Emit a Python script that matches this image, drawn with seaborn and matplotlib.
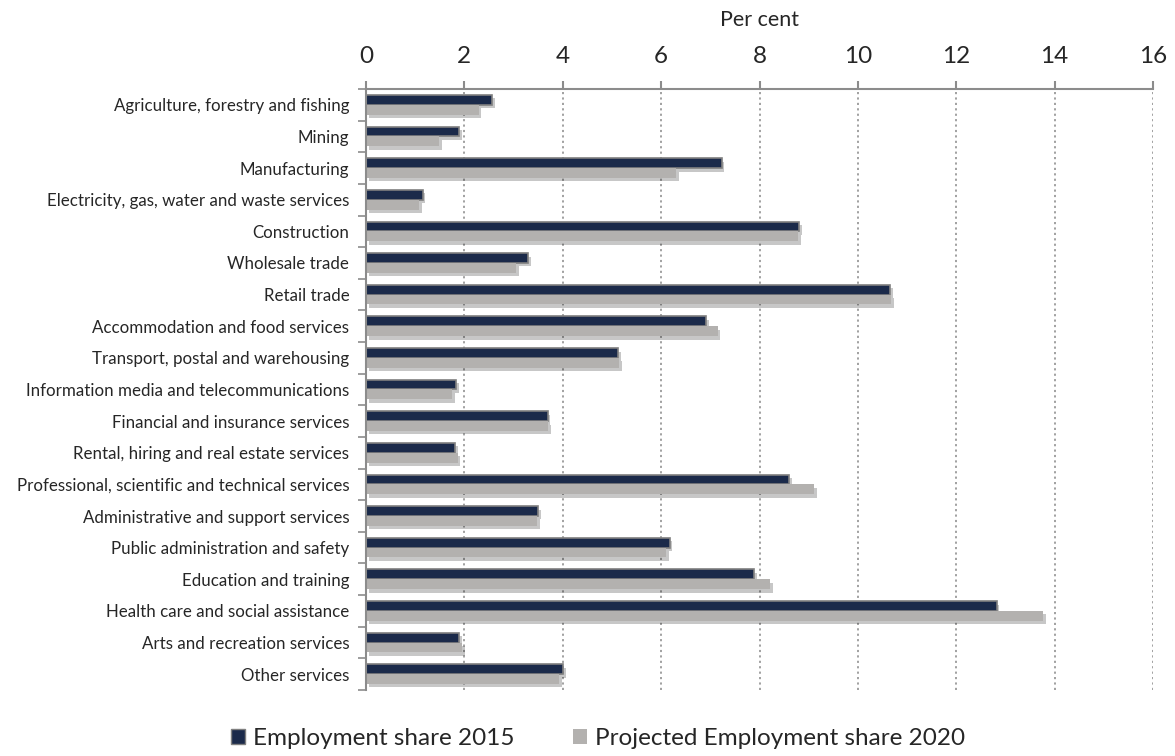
import matplotlib
matplotlib.use("Agg")
import matplotlib.pyplot as plt
import matplotlib.patheffects as pe
from matplotlib.ticker import FixedLocator
import numpy as np
import pandas as pd
import seaborn as sns

industries = [
    "Agriculture, forestry and fishing",
    "Mining",
    "Manufacturing",
    "Electricity, gas, water and waste services",
    "Construction",
    "Wholesale trade",
    "Retail trade",
    "Accommodation and food services",
    "Transport, postal and warehousing",
    "Information media and telecommunications",
    "Financial and insurance services",
    "Rental, hiring and real estate services",
    "Professional, scientific and technical services",
    "Administrative and support services",
    "Public administration and safety",
    "Education and training",
    "Health care and social assistance",
    "Arts and recreation services",
    "Other services",
]
share_2015 = [2.56, 1.89, 7.23, 1.15, 8.80, 3.29, 10.66, 6.92, 5.13, 1.83,
              3.69, 1.81, 8.60, 3.50, 6.17, 7.89, 12.82, 1.90, 4.00]
share_2020 = [2.29, 1.49, 6.31, 1.08, 8.79, 3.05, 10.67, 7.15, 5.15, 1.75,
              3.70, 1.86, 9.11, 3.48, 6.10, 8.21, 13.76, 1.95, 3.92]
series = ["Employment share 2015", "Projected Employment share 2020"]
x_ticks = [0, 2, 4, 6, 8, 10, 12, 14, 16]

df = pd.DataFrame({
    "Industry": industries * 2,
    "Share": share_2015 + share_2020,
    "Series": [series[0]] * len(industries) + [series[1]] * len(industries),
})

sns.set_theme(style="white")
plt.rcParams["font.family"] = ["Lato", "DejaVu Sans"]

fig, ax = plt.subplots(figsize=(11.75, 7.56), dpi=100)
fig.subplots_adjust(left=0.3115, right=0.9813, top=0.8823, bottom=0.0873)

palette = {series[0]: "#1b2a4a", series[1]: "#b3b1af"}
sns.barplot(data=df, y="Industry", x="Share", hue="Series", order=industries,
            hue_order=series, palette=palette, orient="h", width=0.62,
            saturation=1, ax=ax, legend=True)

shadow = [pe.SimplePatchShadow(offset=(2, -2.5), shadow_rgbFace="#000000", alpha=0.22),
          pe.Normal()]
n = len(industries)
for i, patch in enumerate(ax.patches[:2 * n]):
    patch.set_path_effects(shadow)
    if i < n:
        patch.set_edgecolor("#7f7f7f")
        patch.set_linewidth(1.2)
    else:
        patch.set_edgecolor("none")

ax.set_xlim(0, 16)
ax.set_ylim(n - 0.5, -0.5)
ax.xaxis.set_major_locator(FixedLocator(x_ticks))
ax.xaxis.tick_top()
ax.xaxis.set_label_position("top")
ax.set_xlabel("Per cent", fontsize=15.5, labelpad=14)
ax.set_ylabel("")
ax.tick_params(axis="x", which="major", direction="out", length=6, width=1.5,
               color="#8c8c8c", labelsize=17.5, pad=10)
ax.set_xticklabels([str(t) for t in x_ticks])

# category labels sit between boundary ticks on the left axis
ax.yaxis.set_minor_locator(FixedLocator(np.arange(-0.5, n, 1.0)))
ax.tick_params(axis="y", which="major", length=0, labelsize=12.2, pad=12)
ax.tick_params(axis="y", which="minor", direction="out", length=6, width=1.2,
               color="#8c8c8c", left=True)

ax.grid(axis="x", linestyle=(0, (1.2, 1.8)), color="#9a9a9a", linewidth=1.3)
ax.set_axisbelow(True)
for side in ["right", "bottom"]:
    ax.spines[side].set_visible(False)
for side in ["top", "left"]:
    ax.spines[side].set_color("#8c8c8c")
    ax.spines[side].set_linewidth(1.5)

handles, labels = ax.get_legend_handles_labels()
ax.legend_.remove()
for h in handles:
    h.set_edgecolor("#7f7f7f" if h.get_facecolor()[0] < 0.5 else "none")
fig.legend(handles, labels, loc="lower center", bbox_to_anchor=(0.509, -0.02),
           ncol=2, frameon=False, fontsize=17.5, handlelength=0.58, handleheight=0.58,
           handletextpad=0.33, columnspacing=2.4)

fig.savefig("out.png", dpi=100)
